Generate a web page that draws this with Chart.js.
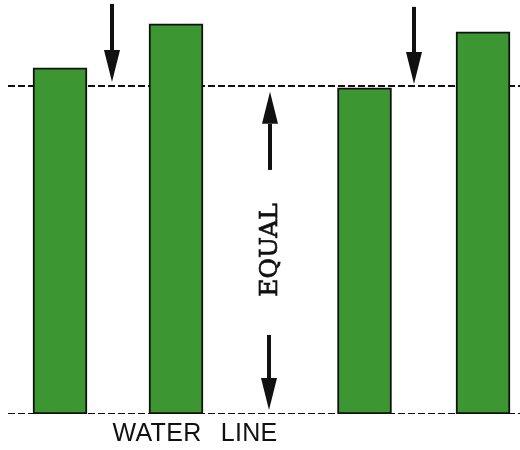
<!DOCTYPE html>
<html>
<head>
<meta charset="utf-8">
<script src="https://cdn.jsdelivr.net/npm/chart.js@4"></script>
<style>
  html, body { margin: 0; padding: 0; background: #fff; }
  #wrap { width: 520px; height: 450px; }
</style>
</head>
<body>
<div id="wrap"><canvas id="waterChart"></canvas></div>
<script>
// heights above the water line, the dashed "equal" line is 100
const barX = [60, 176, 364.5, 483];
const barHeights = [105.5, 118.9, 99.4, 116.5];
const equalLevel = 100;
const waterLevel = 0;
const lineStart = 8;
const lineEnd = 520;

// arrows: x, tail value, tip value
const arrowX = [112, 414, 270, 269];
const arrowFrom = [125, 124.1, 74.4, 24.1];
const arrowTo = [101.2, 100.6, 98.2, 1.2];

const labels = ["EQUAL", "WATER LINE"];
const labelX = [270, 195];
const labelY = [equalLevel / 2, -8.3];

const annotate = {
  id: "annotate",
  afterDatasetsDraw(chart) {
    const ctx = chart.ctx;
    const x = chart.scales.x;
    const y = chart.scales.y;
    ctx.save();
    ctx.fillStyle = "#111";
    ctx.strokeStyle = "#111";

    //arrows
    for (let i = 0; i < arrowX.length; i++) {
      const px = x.getPixelForValue(arrowX[i]);
      const p0 = y.getPixelForValue(arrowFrom[i]);
      const p1 = y.getPixelForValue(arrowTo[i]);
      const dir = p1 > p0 ? 1 : -1;
      const headLen = 32;
      const halfW = 8;
      ctx.lineWidth = 4;
      ctx.beginPath();
      ctx.moveTo(px, p0);
      ctx.lineTo(px, p1 - dir * headLen);
      ctx.stroke();
      ctx.beginPath();
      ctx.moveTo(px, p1);
      ctx.lineTo(px - halfW, p1 - dir * headLen);
      ctx.lineTo(px + halfW, p1 - dir * headLen);
      ctx.closePath();
      ctx.fill();
    }

    // EQUAL, turned on its side
    ctx.translate(x.getPixelForValue(labelX[0]), y.getPixelForValue(labelY[0]));
    ctx.rotate(-Math.PI / 2);
    ctx.font = "25px 'DejaVu Serif'";
    ctx.textAlign = "center";
    ctx.textBaseline = "middle";
    ctx.lineWidth = 0.7;
    ctx.fillText(labels[0], 0, 0);
    ctx.strokeText(labels[0], 0, 0);
    ctx.restore();

    ctx.save();
    ctx.fillStyle = "#111";
    ctx.font = "25px 'Liberation Sans'";
    ctx.textAlign = "center";
    ctx.textBaseline = "alphabetic";
    ctx.wordSpacing = "12px";
    ctx.letterSpacing = "0.3px";
    ctx.fillText(labels[1], x.getPixelForValue(labelX[1]), y.getPixelForValue(labelY[1]));
    ctx.restore();
  },
};

new Chart(document.getElementById("waterChart"), {
  type: "bar",
  data: {
    datasets: [
      {
        type: "line",
        data: [
          { x: lineStart, y: equalLevel },
          { x: lineEnd, y: equalLevel },
        ],
        borderColor: "#111",
        borderWidth: 2,
        borderDash: [7, 3],
        pointRadius: 0,
        order: 2,
      },
      {
        type: "line",
        data: [
          { x: lineStart, y: waterLevel },
          { x: lineEnd, y: waterLevel },
        ],
        borderColor: "#111",
        borderWidth: 2,
        borderDash: [7, 3],
        pointRadius: 0,
        order: 2,
      },
      {
        type: "bar",
        data: barX.map((v, i) => ({ x: v, y: barHeights[i] })),
        backgroundColor: "#3c9632",
        borderColor: "#111",
        borderWidth: 2,
        borderSkipped: false,
        barThickness: 54,
        order: 1,
      },
    ],
  },
  options: {
    responsive: true,
    maintainAspectRatio: false,
    animation: false,
    layout: { padding: { left: 0, right: 0, top: 0, bottom: 36 } },
    plugins: {
      legend: { display: false },
      tooltip: { enabled: false },
    },
    scales: {
      x: { type: "linear", min: 0, max: 520, offset: false, display: false },
      y: { min: 0, max: 126.2, display: false },
    },
  },
  plugins: [annotate],
});
</script>
</body>
</html>
